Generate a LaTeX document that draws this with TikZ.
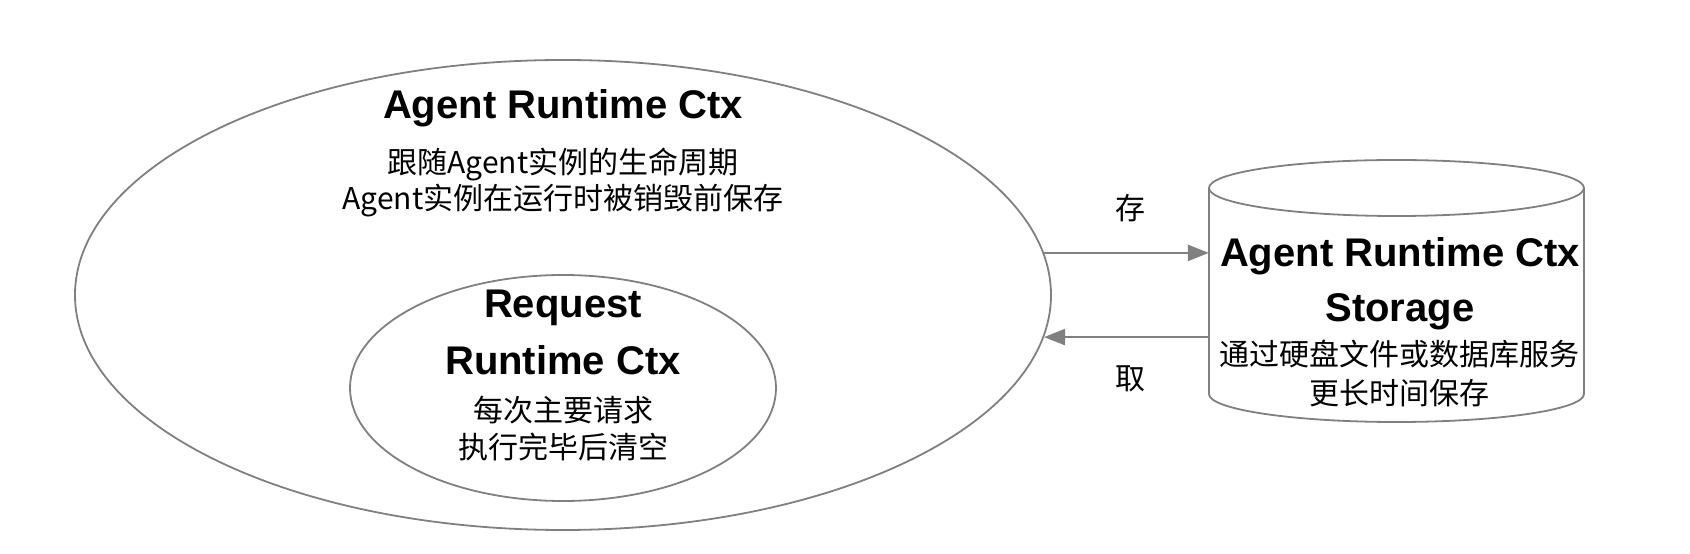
\documentclass[tikz,border=0pt]{standalone}
\usepackage{fontspec}
\setmainfont{Liberation Sans}
\newfontfamily\cjk{Noto Sans CJK SC}
\usetikzlibrary{shapes.geometric,arrows.meta}
\definecolor{linegray}{RGB}{128,128,128}
\begin{document}
\begin{tikzpicture}[x=1pt,y=1pt,
  ring/.style={ellipse,draw=linegray,line width=1.8pt,inner sep=0pt,fill=white},
  title/.style={font=\fontsize{40}{44}\selectfont\bfseries,inner sep=0pt},
  desc/.style={font=\cjk\fontsize{30}{34}\selectfont,inner sep=0pt},
  arr/.style={draw=linegray,line width=2.4pt,-{Triangle[length=21pt,width=16pt]},color=linegray},
  cyl/.style={draw=linegray,line width=1.8pt}
  ]
\path[use as bounding box,fill=white] (0,0) rectangle (1690,554);
% outer ellipse
\node[ring,minimum width=976pt,minimum height=470pt] (outer) at (563,259) {};
\node[title] (t1) at (563,446) {Agent Runtime Ctx};
\node[desc] (d1) at (563,390) {跟随Agent实例的生命周期};
\node[desc] (d2) at (563,353) {Agent实例在运行时被销毁前保存};
% inner ellipse
\node[ring,minimum width=426pt,minimum height=226pt] (inner) at (563,166) {};
\node[title] (t2) at (563,246) {Request};
\node[title] (t3) at (563,194) {Runtime Ctx};
\node[desc] (d3) at (563,144) {每次主要请求};
\node[desc] (d4) at (563,107) {执行完毕后清空};
% cylinder
\draw[cyl] (1209,366) -- (1209,160) arc[start angle=180,end angle=360,x radius=187.5,y radius=28] -- (1584,366);
\draw[cyl] (1396.5,366) ellipse[x radius=187.5,y radius=28];
\node[inner sep=0pt,minimum width=375pt,minimum height=206pt] (store) at (1396.5,263) {};
\node[title] (t4) at (1400,298) {Agent Runtime Ctx};
\node[title] (t5) at (1400,242) {Storage};
\node[desc] (d5) at (1399,200) {通过硬盘文件或数据库服务};
\node[desc] (d6) at (1399,161) {更长时间保存};
% arrows
\draw[arr] (outer.5.5) -- (outer.5.5 -| store.west);
\draw[arr] (outer.-5 -| store.west) -- (outer.-5);
\node[desc] (l1) at (1130,346) {存};
\node[desc] (l2) at (1130,175) {取};
\end{tikzpicture}
\end{document}
